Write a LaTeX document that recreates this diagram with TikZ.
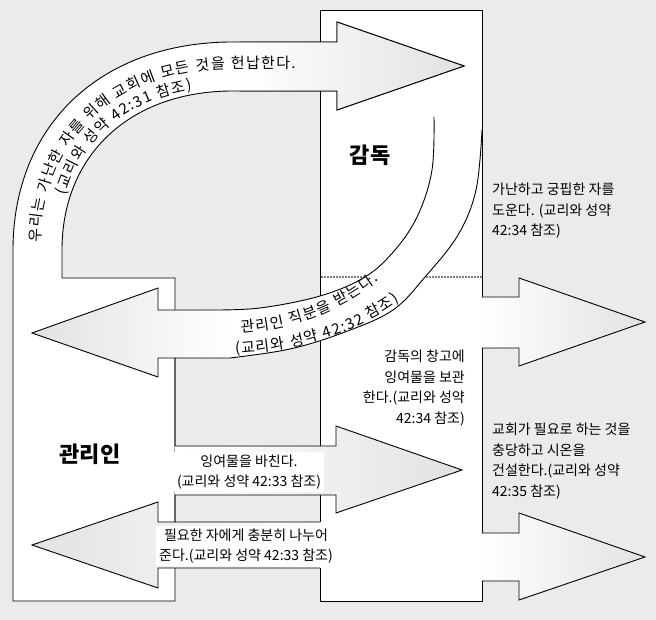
\documentclass[tikz,border=0pt]{standalone}
\usepackage{fontspec}
\setmainfont{Noto Sans CJK KR}
\usetikzlibrary{decorations.text}
\definecolor{bggray}{RGB}{235,235,235}
\definecolor{tipgray}{RGB}{226,226,226}
\newcommand\bandfont{\fontsize{15}{15}\selectfont\kern1.3pt}

\begin{document}
\fontsize{14}{20.5}\selectfont
\begin{tikzpicture}[x=1pt,y=1pt,line cap=round,line join=miter,
  every node/.style={inner sep=1pt},
  edge/.style={line width=0.9pt},
  toright/.style={left color=white,right color=tipgray},
  toleft/.style={left color=tipgray,right color=white},
  role/.style={font=\fontsize{22}{22}\selectfont\bfseries},
  note/.style={font=\fontsize{14}{20.5}\selectfont},
  boxnote/.style={note,align=center,fill=white,inner sep=3pt},
  bandtext/.style={decorate,decoration={text along path,text align={left,left indent=#1}}}]
  \fill[bggray] (0,0) rectangle (656,620);
  \useasboundingbox (0,0) rectangle (656,620);
  \draw[edge,fill=white] (320,19) rectangle (482,610);
  \draw[line width=1.6pt,line cap=round,dash pattern=on 0pt off 3pt] (322,343) -- (482,343);
  \draw[edge,fill=white] (13,19) -- (13,370) .. controls (13,495) and (101,578) .. (233,578) -- (337,578) -- (337,598) -- (464,554) -- (337,510) -- (337,529) -- (233,529) .. controls (130,529) and (62,465) .. (62,370) -- (62,342) -- (175,342) -- (175,19) -- cycle;
  \shade[toright] (240,578) -- (337,578) -- (337,598) -- (464,554) -- (337,510) -- (337,529) -- (240,529) -- cycle;
  \draw[edge] (240,578) -- (337,578) -- (337,598) -- (464,554) -- (337,510) -- (337,529) -- (240,529);
  \fill[white] plot[smooth,tension=0.6] coordinates {(434,503) (432,450) (418,405) (395,370) (365,343) (320,324) (260,312) (210,310)} -- (158,310) -- (158,332) -- (32,287) -- (158,243) -- (158,262) -- plot[smooth,tension=0.6] coordinates {(230,262) (290,271) (345,288) (393,310) (425,343) (458,385) (476,430) (482,490)} -- cycle;
  \shade[toleft] (32,287) -- (158,332) -- (158,310) -- (232,310) -- (232,262) -- (158,262) -- (158,243) -- cycle;
  \shade[toright] (175,174) -- (336,174) -- (336,194) -- (462,150) -- (336,107) -- (336,125) -- (175,125) -- cycle;
  \shade[toleft] (32,75) -- (158,118) -- (158,98) -- (330,98) -- (330,52) -- (158,52) -- (158,32) -- cycle;
  \shade[toright] (481,323) -- (519,323) -- (519,342) -- (645,298) -- (519,254) -- (519,272) -- (481,272) -- cycle;
  \shade[toright] (481,87) -- (519,87) -- (519,107) -- (645,63) -- (519,20) -- (519,39) -- (481,39) -- cycle;
  \draw[edge] plot[smooth,tension=0.6] coordinates {(434,503) (432,450) (418,405) (395,370) (365,343) (320,324) (260,312) (210,310)} -- (158,310) -- (158,332) -- (32,287) -- (158,243) -- (158,262) -- plot[smooth,tension=0.6] coordinates {(230,262) (290,271) (345,288) (393,310) (425,343) (458,385) (476,430) (482,490)};
  \draw[edge] (175,262) -- (175,174) -- (336,174) -- (336,194) -- (462,150) -- (336,107) -- (336,125) -- (175,125) -- (175,98);
  \draw[edge] (320,98) -- (158,98) -- (158,118) -- (32,75) -- (158,32) -- (158,52) -- (320,52);
  \draw[edge] (482,323) -- (519,323) -- (519,342) -- (645,298) -- (519,254) -- (519,272) -- (482,272);
  \draw[edge] (482,87) -- (519,87) -- (519,107) -- (645,63) -- (519,20) -- (519,39) -- (482,39);
  \path[bandtext=6pt,decoration={text={|\bandfont|우리는 가난한 자를 위해 교회에 모든 것을 헌납한다.}}] (40,370) .. controls (40,483) and (118,551) .. (233,551) -- (345,551);
  \path[bandtext=54pt,decoration={text={|\bandfont|(교리와 성약 42:31 참조)}}] (58,370) .. controls (58,475) and (128,533) .. (233,533) -- (330,533);
  \path[bandtext=0pt,decoration={text={|\bandfont|관리인 직분을 받는다.}}] (240,287) .. controls (300,291) and (348,312) .. (396,354);
  \path[bandtext=0pt,decoration={text={|\bandfont|(교리와 성약 42:32 참조)}}] (234,266) .. controls (302,269) and (368,289) .. (414,331);
  \node[role] (bishop) at (370,465) {감독};
  \node[role] (steward) at (90,166) {관리인};
  \node[note,anchor=west,align=left] (helppoor) at (491,409) {가난하고 궁핍한 자를\\도운다. (교리와 성약\\42:34 참조)};
  \node[note,anchor=east,align=right] (storehouse) at (466,232) {감독의 창고에\\잉여물을 보관\\한다.(교리와 성약\\42:34 참조)};
  \node[note,anchor=west,align=left] (buildzion) at (491,159) {교회가 필요로 하는 것을\\충당하고 시온을\\건설한다.(교리와 성약\\42:35 참조)};
  \node[boxnote] (surplus) at (249,148) {잉여물을 바친다.\\(교리와 성약 42:33 참조)};
  \node[boxnote] (share) at (246,74) {필요한 자에게 충분히 나누어\\준다.(교리와 성약 42:33 참조)};
\end{tikzpicture}
\end{document}
